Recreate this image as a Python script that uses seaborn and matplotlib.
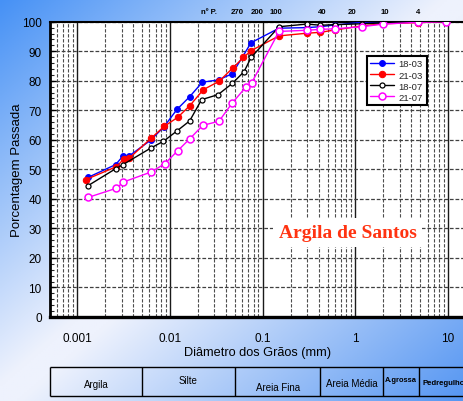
import numpy as np
import pandas as pd
import matplotlib
matplotlib.use("Agg")
import matplotlib.pyplot as plt
import seaborn as sns
from matplotlib.ticker import LogLocator, MultipleLocator, FixedLocator, NullFormatter, FixedFormatter

# Grain size distributions (diameter in mm, percent passing)
d_1803 = [0.00131, 0.00259, 0.00311, 0.00361, 0.0062, 0.0086, 0.0119, 0.0163, 0.0223,
          0.0335, 0.047, 0.075, 0.15, 0.30, 0.42, 0.60, 1.18, 2.0, 4.75, 9.5]
p_1803 = [47.3, 51.6, 54.5, 54.5, 59.9, 64.4, 70.3, 74.6, 79.5,
          80.3, 82.4, 92.9, 97.8, 98.0, 98.3, 98.9, 99.8, 100, 100, 100]

d_2103 = [0.00123, 0.00264, 0.00316, 0.00364, 0.00624, 0.00869, 0.0121, 0.0164, 0.0229,
          0.0338, 0.0475, 0.062, 0.075, 0.15, 0.30, 0.42, 0.60, 1.18, 2.0, 4.75, 9.5]
p_2103 = [46.5, 50.9, 53.4, 53.8, 60.5, 64.6, 67.6, 71.6, 77.0,
          79.8, 84.3, 87.9, 90.2, 95.2, 96.1, 96.4, 97.2, 98.6, 99.3, 99.7, 100]

d_1807 = [0.00131, 0.00259, 0.00311, 0.0062, 0.0085, 0.012, 0.0163, 0.0219, 0.033,
          0.047, 0.063, 0.075, 0.15, 0.30, 0.42, 0.60, 1.18, 2.0, 4.75, 9.5]
p_1807 = [44.5, 50.2, 51.6, 57.2, 59.5, 63.1, 66.4, 73.6, 75.3,
          79.1, 83.1, 87.9, 98.3, 99.2, 98.8, 99.0, 99.3, 99.6, 99.9, 100]

d_2107 = [0.00131, 0.00264, 0.00314, 0.00624, 0.0088, 0.0121, 0.0164, 0.0226, 0.0338,
          0.047, 0.0656, 0.076, 0.15, 0.30, 0.42, 0.60, 1.18, 2.0, 4.75, 9.5]
p_2107 = [40.5, 43.6, 45.7, 49.1, 51.9, 56.3, 60.4, 64.9, 66.3,
          72.5, 77.8, 79.3, 96.7, 97.1, 97.4, 97.6, 98.3, 99.2, 99.8, 100]

series_labels = ["18-03", "21-03", "18-07", "21-07"]

# Sieve numbers shown above the plot and their openings (mm)
sieve_numbers = ["270", "200", "100", "40", "20", "10", "4"]
sieve_openings = [0.053, 0.075, 0.15, 0.42, 0.85, 2.0, 4.75]

# Soil classification strip below the plot
soil_classes = ["Argila", "Silte", "Areia Fina", "Areia Média", "A.grossa", "Pedregulho"]
class_limits = [0.000508, 0.005, 0.05, 0.42, 2.0, 4.8, 15.2]

x_ticks = [0.001, 0.01, 0.1, 1, 10]
x_tick_labels = ["0.001", "0.01", "0.1", "1", "10"]

sns.set_theme(style="white")
plt.rcParams["font.family"] = ["Liberation Sans", "DejaVu Sans"]

W, H = 464, 402
fig = plt.figure(figsize=(W / 100, H / 100), dpi=100)

# Diagonal blue-white-blue background
bg = fig.add_axes([0, 0, 1, 1], zorder=-10)
yy, xx = np.mgrid[0:1:200j, 0:1:200j]
t = (xx + yy) / 2.0
c_edge0 = np.array([70, 145, 245]) / 255
c_mid = np.array([238, 242, 253]) / 255
c_edge1 = np.array([85, 150, 242]) / 255
w0 = np.clip(1 - t / 0.48, 0, 1)[..., None]
w1 = np.clip((t - 0.52) / 0.48, 0, 1)[..., None]
img = c_mid * (1 - w0 - w1) + c_edge0 * w0 + c_edge1 * w1
bg.imshow(img, extent=[0, 1, 0, 1], aspect="auto", origin="upper")
bg.axis("off")

ax_left, ax_right = 50, 465
ax_top, ax_bottom = 22.7, 318
ax = fig.add_axes([ax_left / W, 1 - ax_bottom / H, (ax_right - ax_left) / W, (ax_bottom - ax_top) / H])
ax.set_facecolor("white")

styles = [
    dict(color="#0000ff", marker="o", markersize=4.2, markerfacecolor="#0000ff", markeredgecolor="#0000ff"),
    dict(color="#ff0000", marker="o", markersize=4.6, markerfacecolor="#ff0000", markeredgecolor="#ff0000"),
    dict(color="black", marker="o", markersize=3.6, markerfacecolor="white", markeredgecolor="black", markeredgewidth=0.9),
    dict(color="#ff00ff", marker="o", markersize=5.0, markerfacecolor="white", markeredgecolor="#ff00ff", markeredgewidth=1.1),
]
for d, p, lab, st in zip([d_1803, d_2103, d_1807, d_2107],
                         [p_1803, p_2103, p_1807, p_2107], series_labels, styles):
    df = pd.DataFrame({"d": d, "p": p})
    sns.lineplot(data=df, x="d", y="p", ax=ax, sort=False, estimator=None,
                 label=lab, linewidth=1.0, zorder=5, **st)

ax.set_xscale("log")
ax.set_xlim(class_limits[0], class_limits[-1])
ax.set_ylim(0, 100)

ax.xaxis.set_major_locator(FixedLocator(x_ticks))
ax.xaxis.set_major_formatter(FixedFormatter(x_tick_labels))
ax.xaxis.set_minor_locator(LogLocator(base=10, subs=np.arange(2, 10)))
ax.xaxis.set_minor_formatter(NullFormatter())
ax.yaxis.set_major_locator(MultipleLocator(10))
ax.yaxis.set_minor_locator(MultipleLocator(2))

ax.grid(which="major", axis="x", color="0.1", linewidth=1.0, linestyle="-")
ax.grid(which="minor", axis="x", color="0.3", linewidth=0.8, linestyle=(0, (3, 1.5)))
ax.grid(which="major", axis="y", color="0.25", linewidth=0.9, linestyle=(0, (3, 1.5)))
ax.set_axisbelow(True)

ax.tick_params(axis="x", which="both", length=0, pad=10.5, labelsize=8.5, colors="black")
ax.tick_params(axis="y", which="major", direction="in", length=4, width=1, pad=6,
               labelsize=8.5, left=True, colors="black")
ax.tick_params(axis="y", which="minor", direction="in", length=3, width=0.8, left=True)

for side, lw in [("left", 2.0), ("bottom", 2.4), ("top", 1.5), ("right", 1.5)]:
    ax.spines[side].set_color("black")
    ax.spines[side].set_linewidth(lw)

ax.set_xlabel("Diâmetro dos Grãos (mm)", fontsize=9.2, labelpad=2, color="black")
ax.set_ylabel("Porcentagem Passada", fontsize=9.5, labelpad=-1, color="black")

leg = ax.legend(loc="upper right", bbox_to_anchor=(0.908, 0.885), borderaxespad=0, fontsize=6.8,
                frameon=True, fancybox=False, framealpha=1, edgecolor="black",
                borderpad=0.4, labelspacing=0.22, handlelength=2.5, handletextpad=0.5)
leg.get_frame().set_linewidth(1.5)
leg.set_zorder(20)

ax.text(0.717, 0.287, "Argila de Santos", transform=ax.transAxes, ha="center", va="center",
        fontsize=14, fontweight="bold", color="#ff3311",
        family=["Liberation Serif", "DejaVu Serif"], zorder=15,
        bbox=dict(boxstyle="square,pad=0.3", facecolor="white", edgecolor="none"))

# Sieve numbers along the top edge
trans_top = ax.get_xaxis_transform()
label_offsets = [0, 4, -2, 1, 2, 1, 0]
for num, opening, dx in zip(sieve_numbers, sieve_openings, label_offsets):
    ax.annotate(num, xy=(opening, 1.0), xycoords=trans_top, xytext=(dx, 7),
                textcoords="offset points", ha="center", va="center",
                fontsize=5.6, fontweight="bold", color="black", annotation_clip=False)
ax.annotate("nº P.", xy=(0.0263, 1.0), xycoords=trans_top, xytext=(0, 7),
            textcoords="offset points", ha="center", va="center",
            fontsize=5.6, fontweight="bold", color="black", annotation_clip=False)

# Classification strip
strip_top, strip_bottom = 367.7, 397
tab = fig.add_axes([ax_left / W, 1 - strip_bottom / H, (ax_right - ax_left) / W, (strip_bottom - strip_top) / H])
tab.set_xscale("log")
tab.set_xlim(class_limits[0], class_limits[-1])
tab.set_ylim(0, 1)
tab.axis("off")
tab.hlines([0, 1], class_limits[0], class_limits[-1], color="black", linewidth=1.0, clip_on=False)
tab.vlines(class_limits[:-1], 0, 1, color="black", linewidth=1.0, clip_on=False)
text_y = [0.42, 0.54, 0.32, 0.43, 0.56, 0.45]
text_size = [7.0, 7.0, 7.0, 7.0, 5.4, 5.6]
text_weight = ["normal", "normal", "normal", "normal", "bold", "bold"]
for i, name in enumerate(soil_classes):
    xc = np.sqrt(class_limits[i] * class_limits[i + 1])
    if i == len(soil_classes) - 1:
        xc *= 1.05
    tab.text(xc, text_y[i], name, ha="center", va="center", fontsize=text_size[i],
             fontweight=text_weight[i], color="black", clip_on=False)

fig.savefig("out.png", dpi=100)
